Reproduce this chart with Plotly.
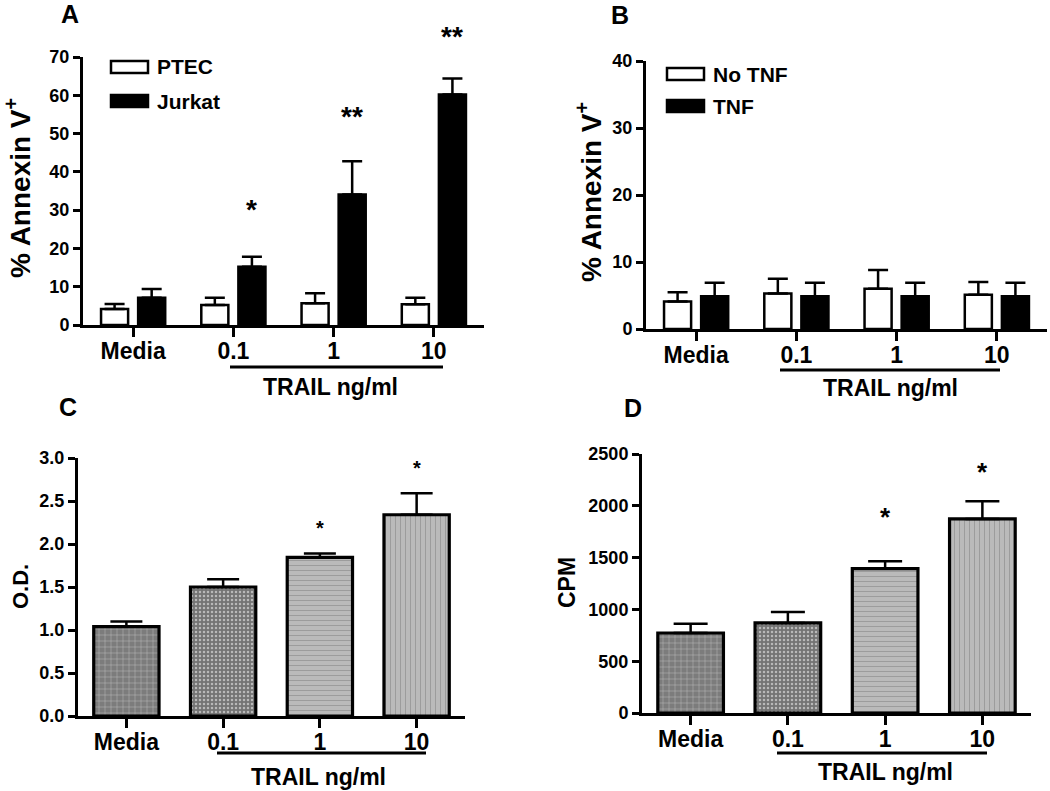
import plotly.graph_objs as go
from plotly.subplots import make_subplots

# figure size in px, the page is photographed at this size
W, H = 1050, 791
FONT = "Liberation Sans, Arial, sans-serif"

doses = ['Media', '0.1', '1', '10']

# Panel A - % Annexin V+, PTEC vs Jurkat
ptec_mean = [4.2, 5.2, 5.7, 5.4]
ptec_err = [1.3, 1.9, 2.6, 1.7]
jurkat_mean = [7.1, 15.2, 34.1, 60.2]
jurkat_err = [2.3, 2.6, 8.7, 4.2]
a_stars = ['', '*', '**', '**']
a_star_y = [0, 30.8, 55, 76]

# Panel B - % Annexin V+, no TNF vs TNF
notnf_mean = [4.1, 5.3, 6.0, 5.1]
notnf_err = [1.4, 2.2, 2.8, 1.9]
tnf_mean = [4.9, 4.9, 4.9, 4.9]
tnf_err = [2.0, 2.0, 2.0, 2.0]

# Panel C - O.D.
od_mean = [1.04, 1.50, 1.845, 2.34]
od_err = [0.06, 0.09, 0.045, 0.25]
c_stars = ['', '', '*', '*']
c_star_y = [0, 0, 2.20, 2.90]

# Panel D - CPM
cpm_mean = [772, 869, 1393, 1873]
cpm_err = [90, 106, 71, 170]
d_stars = ['', '', '*', '*']
d_star_y = [0, 0, 1914, 2349]

# y ranges of the four panels
a_top, b_top, c_top, d_top = 70, 40, 3, 2500


# pixel -> paper helpers for the decorations
def px(x):
    return x / W


def py(y):
    return 1 - y / H


def bold(size):
    return dict(family=FONT, size=size, color='black', weight='bold')


def err(vals, thick, cap):
    return dict(type='data', array=vals, arrayminus=[0] * len(vals), symmetric=False,
                color='black', thickness=thick, width=cap)


def note(x, y, text, size, **kw):
    # paper annotations, always centred (auto anchors shift them at the edges)
    opts = dict(xref='paper', yref='paper', xanchor='center', yanchor='middle')
    opts.update(kw)
    fig.add_annotation(x=x, y=y, text=text, showarrow=False, font=bold(size), **opts)


fig = make_subplots(rows=2, cols=2)

# paired bars (A, B)
pair_w = 0.27
left_off = -0.32
right_off = 0.05

fig.add_trace(go.Bar(x=doses, y=ptec_mean, width=pair_w, offset=left_off,
                     marker=dict(color='white', line=dict(color='black', width=2.5)),
                     error_y=err(ptec_err, 2.5, 10)), row=1, col=1)
fig.add_trace(go.Bar(x=doses, y=jurkat_mean, width=pair_w, offset=right_off,
                     marker=dict(color='black', line=dict(color='black', width=2.5)),
                     error_y=err(jurkat_err, 2.5, 10)), row=1, col=1)
fig.add_trace(go.Bar(x=doses, y=notnf_mean, width=pair_w, offset=left_off,
                     marker=dict(color='white', line=dict(color='black', width=2.5)),
                     error_y=err(notnf_err, 2.5, 10)), row=1, col=2)
fig.add_trace(go.Bar(x=doses, y=tnf_mean, width=pair_w, offset=right_off,
                     marker=dict(color='black', line=dict(color='black', width=2.5)),
                     error_y=err(tnf_err, 2.5, 10)), row=1, col=2)

# single patterned bars (C, D)
single_marker = dict(
    color=['#7c7c7c', '#747474', '#bababa', '#bababa'],
    line=dict(color='black', width=3.2),
    pattern=dict(shape=['+', '.', '-', '|'], fillmode='overlay',
                 fgcolor=['#8e8e8e', '#b4b4b4', '#b2b2b2', '#b2b2b2'],
                 size=[6, 4, 5, 5], solidity=[0.15, 0.3, 0.1, 0.1]),
)
fig.add_trace(go.Bar(x=doses, y=od_mean, width=0.675, marker=single_marker,
                     error_y=err(od_err, 2.5, 16)), row=2, col=1)
fig.add_trace(go.Bar(x=doses, y=cpm_mean, width=0.675, marker=single_marker,
                     error_y=err(cpm_err, 2.5, 17)), row=2, col=2)

fig.update_traces(showlegend=False, cliponaxis=False)

xax = dict(type='category', range=[-0.5, 3.5], showline=True, linecolor='black', linewidth=3,
           ticks='outside', ticklen=9, tickwidth=3, tickcolor='black', showgrid=False,
           zeroline=False, tickfont=bold(23), fixedrange=True, automargin=False,
           ticklabelstandoff=-6)
yax = dict(showline=True, linecolor='black', linewidth=3, ticks='outside', ticklen=7,
           tickwidth=3, tickcolor='black', showgrid=False, zeroline=False,
           tickfont=bold(18), fixedrange=True, automargin=False)

fig.update_layout(
    template='none',
    xaxis=dict(xax, domain=[px(83), px(484)]),
    yaxis=dict(yax, domain=[py(325), py(57)], range=[0, a_top], dtick=10),
    xaxis2=dict(xax, domain=[px(646), px(1047)]),
    yaxis2=dict(yax, domain=[py(329), py(61)], range=[0, b_top], dtick=10),
    xaxis3=dict(xax, domain=[px(78), px(465)]),
    yaxis3=dict(yax, domain=[py(716), py(458)], range=[0, c_top], dtick=0.5, tickformat='.1f'),
    xaxis4=dict(xax, domain=[px(642), px(1031)]),
    yaxis4=dict(yax, domain=[py(713), py(454)], range=[0, d_top], dtick=500),
    barmode='overlay',
    width=W, height=H,
    margin=dict(l=0, r=0, t=0, b=0, pad=0, autoexpand=False),
    paper_bgcolor='white', plot_bgcolor='white',
    font=dict(family=FONT, color='black'),
)

# significance stars (placed on the axis domain so the ones above the range still show)
pair_center = right_off + pair_w / 2
for stars, ys, top, ax, dx, size in [(a_stars, a_star_y, a_top, '', pair_center, 28),
                                      (c_stars, c_star_y, c_top, '3', 0, 20),
                                      (d_stars, d_star_y, d_top, '4', 0, 26)]:
    for i, s in enumerate(stars):
        if s:
            fig.add_annotation(x=i + dx, y=ys[i] / top, xref='x' + ax, yref='y' + ax + ' domain',
                               xanchor='center', yanchor='middle', text=s, showarrow=False,
                               font=bold(size), yshift=-size * 0.08)

# panel letters
for letter, lx, ly in [('A', 70, 14), ('B', 620, 15), ('C', 68, 407), ('D', 633, 408)]:
    note(px(lx), py(ly), letter, 25)

# y axis titles
for title, tx, ty, size in [('% Annexin V<sup>+</sup>', 18, 188, 28),
                            ('% Annexin V<sup>+</sup>', 589, 192, 28),
                            ('O.D.', 20, 587, 22),
                            ('CPM', 567, 583, 23)]:
    note(px(tx), py(ty), title, size, textangle=-90)

# TRAIL ng/ml brackets
for x0, x1, ly, tx, ty in [(230, 443, 367, 330, 387),
                           (780, 1000, 370, 890, 388),
                           (217, 426, 753, 318, 777),
                           (777, 987, 753, 885, 772)]:
    fig.add_shape(type='line', xref='paper', yref='paper', x0=px(x0), x1=px(x1),
                  y0=py(ly), y1=py(ly), line=dict(color='black', width=3))
    note(px(tx), py(ty), 'TRAIL ng/ml', 23)

# hand-made legends with wide boxes (A and B)
for labels, bx, by in [(['PTEC', 'Jurkat'], 111, [61, 95]),
                       (['No TNF', 'TNF'], 667, [68, 100])]:
    for lab, fill, y0 in zip(labels, ['white', 'black'], by):
        fig.add_shape(type='rect', xref='paper', yref='paper', x0=px(bx), x1=px(bx + 37),
                      y0=py(y0), y1=py(y0 + 12), fillcolor=fill, line=dict(color='black', width=2.5))
        note(px(bx + 44), py(y0 + 6), lab, 21, xanchor='left')

# the page body has a default 8px margin, drop it so the figure sits at 0,0
fig.write_html("out.html", config={'displayModeBar': False},
               post_script="document.body.style.margin='0';")
